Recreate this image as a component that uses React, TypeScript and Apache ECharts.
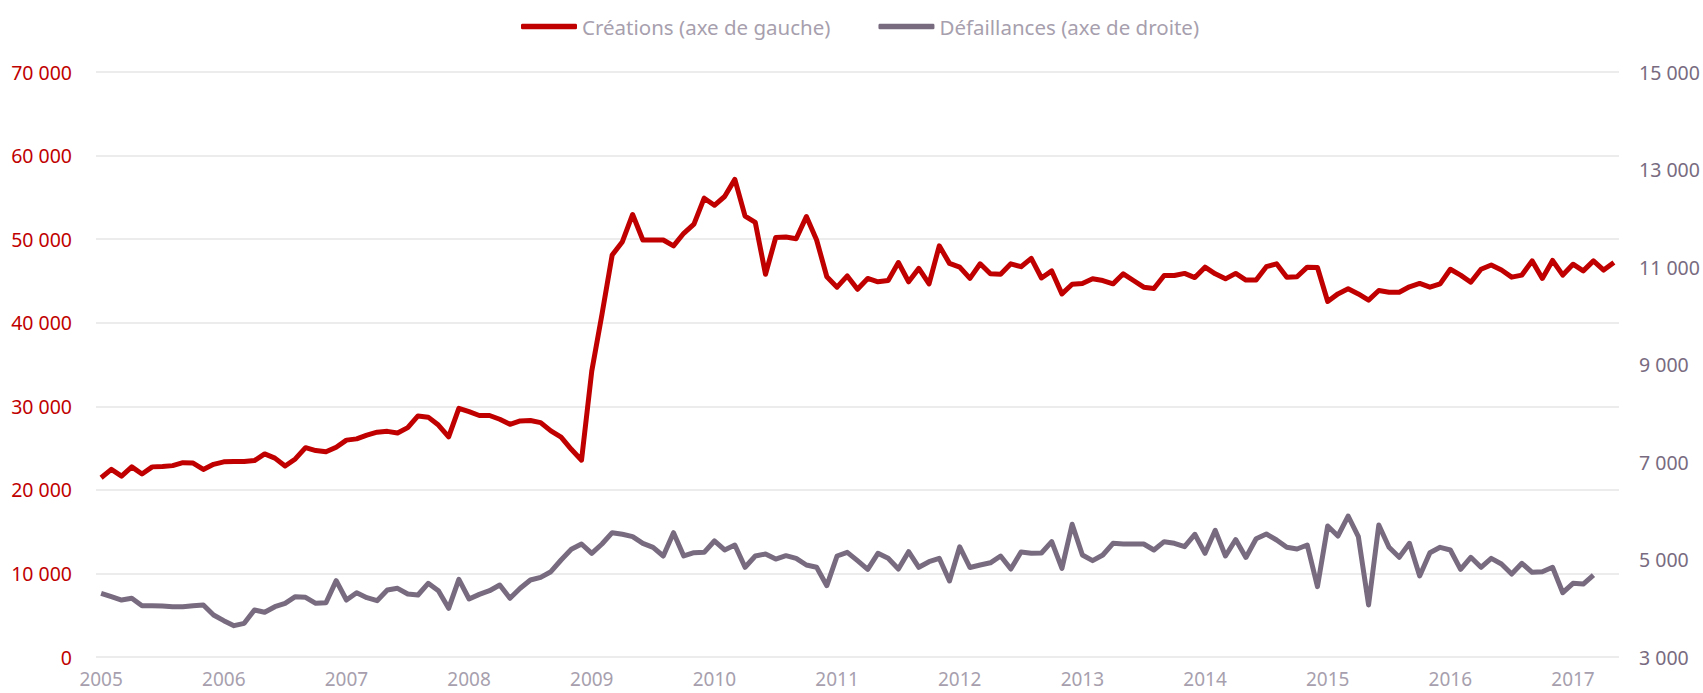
import React, { useEffect, useRef } from "react";
import * as echarts from "echarts";

// Monthly categories: January 2005 to May 2017
const START_YEAR = 2005;
const MONTH_COUNT = 149;
const categories: string[] = Array.from(
  { length: MONTH_COUNT },
  (_, i) => `${START_YEAR + Math.floor(i / 12)}-${String((i % 12) + 1).padStart(2, "0")}`
);

// Créations (left axis), monthly
const creations2005 = [21450, 22450, 21650, 22750, 21900, 22750, 22800, 22900, 23250, 23200, 22450, 23050];
const creations2006 = [23350, 23400, 23400, 23500, 24300, 23800, 22850, 23700, 25050, 24700, 24550, 25100];
const creations2007 = [25950, 26100, 26550, 26900, 27000, 26800, 27450, 28850, 28700, 27750, 26350, 29750];
const creations2008 = [29350, 28900, 28900, 28450, 27850, 28250, 28300, 28050, 27050, 26300, 24850, 23550];
const creations2009 = [34200, 41000, 48100, 49700, 52950, 49900, 49900, 49900, 49200, 50700, 51800, 54900];
const creations2010 = [54050, 55100, 57150, 52750, 52000, 45800, 50200, 50250, 50050, 52700, 49900, 45500];
const creations2011 = [44250, 45600, 44000, 45300, 44900, 45050, 47200, 44900, 46500, 44650, 49200, 47100];
const creations2012 = [46650, 45300, 47050, 45850, 45800, 47050, 46700, 47700, 45350, 46200, 43450, 44600];
const creations2013 = [44700, 45250, 45050, 44650, 45850, 45050, 44250, 44100, 45650, 45650, 45900, 45400];
const creations2014 = [46650, 45850, 45250, 45900, 45100, 45100, 46700, 47050, 45450, 45500, 46650, 46600];
const creations2015 = [42550, 43450, 44050, 43450, 42700, 43850, 43650, 43650, 44300, 44700, 44250, 44650];
const creations2016 = [46400, 45700, 44850, 46400, 46900, 46300, 45450, 45700, 47400, 45300, 47450, 45700];
const creations2017 = [47000, 46200, 47400, 46300, 47200];

// Défaillances (right axis), monthly
const defaillances2005 = [4306, 4237, 4169, 4204, 4053, 4053, 4046, 4032, 4032, 4053, 4067, 3862];
const defaillances2006 = [3745, 3643, 3691, 3964, 3917, 4032, 4101, 4237, 4224, 4101, 4114, 4566];
const defaillances2007 = [4169, 4319, 4217, 4155, 4374, 4409, 4292, 4272, 4511, 4360, 3998, 4593];
const defaillances2008 = [4190, 4285, 4360, 4477, 4204, 4409, 4580, 4634, 4750, 4990, 5209, 5318];
const defaillances2009 = [5127, 5318, 5550, 5517, 5468, 5332, 5250, 5072, 5550, 5072, 5140, 5147];
const defaillances2010 = [5380, 5195, 5297, 4840, 5072, 5113, 5010, 5079, 5024, 4887, 4840, 4463];
const defaillances2011 = [5072, 5147, 4976, 4798, 5127, 5024, 4805, 5161, 4840, 4955, 5024, 4559];
const defaillances2012 = [5260, 4836, 4887, 4932, 5072, 4805, 5155, 5127, 5133, 5366, 4819, 5722];
const defaillances2013 = [5092, 4976, 5092, 5332, 5318, 5318, 5318, 5195, 5366, 5332, 5263, 5517];
const defaillances2014 = [5127, 5598, 5072, 5410, 5042, 5425, 5523, 5400, 5250, 5215, 5297, 4443];
const defaillances2015 = [5687, 5482, 5892, 5468, 4067, 5708, 5250, 5045, 5332, 4662, 5140, 5250];
const defaillances2016 = [5195, 4798, 5045, 4840, 5024, 4908, 4703, 4921, 4737, 4750, 4840, 4319];
const defaillances2017 = [4511, 4497, 4682];

const creations = [
  ...creations2005, ...creations2006, ...creations2007, ...creations2008, ...creations2009,
  ...creations2010, ...creations2011, ...creations2012, ...creations2013, ...creations2014,
  ...creations2015, ...creations2016, ...creations2017,
];
const defaillances = [
  ...defaillances2005, ...defaillances2006, ...defaillances2007, ...defaillances2008, ...defaillances2009,
  ...defaillances2010, ...defaillances2011, ...defaillances2012, ...defaillances2013, ...defaillances2014,
  ...defaillances2015, ...defaillances2016, ...defaillances2017,
];

const seriesNames = ["Créations (axe de gauche)", "Défaillances (axe de droite)"];
const rightTickValues = [3000, 5000, 7000, 9000, 11000, 13000, 15000];

const RED = "#C00000";
const GREY = "#786B80";
const LIGHT_TEXT = "#A79FAE";
const FONT = "'Noto Sans', 'Liberation Sans', sans-serif";

const fmt = (v: number) => String(v).replace(/\B(?=(\d{3})+(?!\d))/g, " ");

export default function App() {
  const ref = useRef<HTMLDivElement>(null);

  useEffect(() => {
    document.body.style.margin = "0";
    if (!ref.current) return;
    const chart = echarts.init(ref.current, null, { renderer: "svg" });
    chart.setOption({
      animation: false,
      backgroundColor: "#ffffff",
      textStyle: { fontFamily: FONT },
      legend: {
        data: seriesNames,
        left: 516,
        top: 11,
        icon: "roundRect",
        itemWidth: 56,
        itemHeight: 5.5,
        itemGap: 48,
        textStyle: { color: LIGHT_TEXT, fontSize: 20.5, fontFamily: FONT },
      },
      grid: { left: 96, right: 84, top: 72, bottom: 36, containLabel: false },
      xAxis: {
        type: "category",
        data: categories,
        boundaryGap: true,
        axisLine: { show: false },
        axisTick: { show: false },
        splitLine: { show: false },
        axisLabel: {
          interval: (idx: number) => idx % 12 === 0,
          formatter: (v: string) => v.slice(0, 4),
          color: LIGHT_TEXT,
          fontSize: 19,
          margin: 12,
          fontFamily: FONT,
        },
      },
      yAxis: [
        {
          type: "value",
          min: 0,
          max: 70000,
          interval: 10000,
          axisLine: { show: false },
          axisTick: { show: false },
          splitLine: { show: true, lineStyle: { color: "#E6E6E6", width: 1.5 } },
          axisLabel: { color: RED, fontSize: 19.5, margin: 24, formatter: fmt, fontFamily: FONT },
        },
        {
          type: "value",
          min: 3000,
          max: 15000,
          position: "right",
          axisLine: { show: false },
          axisTick: { show: false },
          splitLine: { show: false },
          axisLabel: {
            customValues: rightTickValues,
            color: GREY,
            fontSize: 19.5,
            margin: 20,
            formatter: fmt,
            fontFamily: FONT,
          },
        },
      ],
      series: [
        {
          name: seriesNames[0],
          type: "line",
          yAxisIndex: 0,
          data: creations,
          showSymbol: false,
          symbol: "none",
          color: RED,
          lineStyle: { color: RED, width: 5, join: "round" },
          z: 3,
        },
        {
          name: seriesNames[1],
          type: "line",
          yAxisIndex: 1,
          data: defaillances,
          showSymbol: false,
          symbol: "none",
          color: GREY,
          lineStyle: { color: GREY, width: 5, join: "round" },
          z: 2,
        },
      ],
    });
    return () => chart.dispose();
  }, []);

  return <div ref={ref} style={{ width: 1703, height: 693 }} />;
}
